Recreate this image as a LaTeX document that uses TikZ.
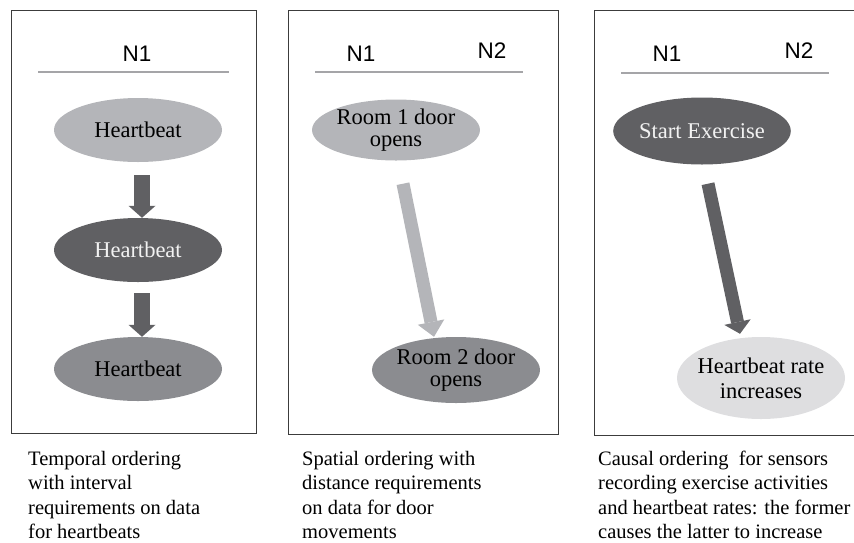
\documentclass[tikz,border=0pt]{standalone}
\usepackage{fontspec}
\setmainfont{Liberation Serif}
\newfontfamily\hdrfont{Liberation Sans}
\usetikzlibrary{shapes.geometric,arrows.meta,positioning,calc}
\definecolor{evlight}{RGB}{180,181,185}
\definecolor{evdark}{RGB}{96,96,99}
\definecolor{evmid}{RGB}{139,140,144}
\definecolor{evpale}{RGB}{222,222,224}
\definecolor{framegray}{RGB}{60,60,60}
\definecolor{rulegray}{RGB}{165,165,168}
\tikzset{
  % Panel frame
  panel/.style={draw=framegray, line width=1.2pt, rectangle, anchor=north west, inner sep=0pt},
  % Node column headings
  hdr/.style={font=\hdrfont\fontsize{22.5}{26}\selectfont, inner sep=0pt},
  hrule/.style={draw=rulegray, line width=1.2pt},
  % Events: filled ellipses, no outline
  ev/.style={ellipse, minimum width=168pt, minimum height=64pt, inner sep=0pt,
             align=center, font=\fontsize{22.5}{22}\selectfont},
  ev-light/.style={ev, fill=evlight},
  ev-dark/.style={ev, fill=evdark, text=white!95!black},
  ev-mid/.style={ev, fill=evmid},
  ev-pale/.style={ev, fill=evpale},
  % Block arrows
  blockarr/.style={line width=16pt, -{Triangle[width=27pt,length=12pt,line width=0pt]}},
  blockarr-thin/.style={blockarr, line width=13pt},
  % Captions under the panels
  caption/.style={anchor=north west, align=left, inner sep=0pt,
                  font=\fontsize{20.5}{24.3}\selectfont}
}

\begin{document}
\begin{tikzpicture}[x=1pt, y=-1pt]
\useasboundingbox (0,0) rectangle (854,542);
\clip (0,0) rectangle (854,542);

% Three panels
\node[panel, minimum width=245pt, minimum height=423pt] (p1) at (11,10) {};
\node[panel, minimum width=270pt, minimum height=424pt] (p2) at (288,10) {};
\node[panel, minimum width=300pt, minimum height=425pt] (p3) at (594,10) {};

% Headings
\node[hdr] (p1n1) at (137,54) {N1};
\draw[hrule] (38,72) -- (229,72);
\node[hdr] (p2n1) at (361,54) {N1};
\node[hdr] (p2n2) at (492,51) {N2};
\draw[hrule] (315,72) -- (523,72);
\node[hdr] (p3n1) at (667,54) {N1};
\node[hdr] (p3n2) at (799,51) {N2};
\draw[hrule] (621,73) -- (829,73);

% Temporal ordering
\node[ev-light] (hb1) at (138,130) {Heartbeat};
\node[ev-dark]  (hb2) at (138,250) {Heartbeat};
\node[ev-mid]   (hb3) at (138,369) {Heartbeat};
\draw[blockarr, evdark] ([xshift=4pt,yshift=-13pt]hb1.south) -- ([xshift=4pt]hb2.north);
\draw[blockarr, evdark] ([xshift=4pt,yshift=-11pt]hb2.south) -- ([xshift=4pt]hb3.north);

% Spatial ordering
\node[ev-light, minimum width=167pt, minimum height=61pt] (r1) at (396,130) {Room 1 door\\opens};
\node[ev-mid, minimum width=167pt, minimum height=66pt] (r2) at (456,370) {Room 2 door\\opens};
\draw[blockarr-thin, evlight, -{Triangle[width=27pt,length=15pt,line width=0pt]}]
  ([xshift=7pt,yshift=-23pt]r1.south) -- ([xshift=-22pt]r2.north);

% Causal ordering
\node[ev-dark, minimum width=169pt, minimum height=67pt] (se) at (702,131) {Start Exercise};
\node[ev-pale, minimum width=168pt, minimum height=82pt, inner xsep=-6pt,
      font=\fontsize{22.5}{25}\selectfont] (hr) at (761,378)
  {Heartbeat rate\\increases};
\draw[blockarr-thin, evdark] ([xshift=6pt,yshift=-19pt]se.south) -- ([xshift=-21pt,yshift=3pt]hr.north);

% Captions
\node[caption] (c1) at (28,451) {Temporal ordering\\with interval\\requirements on data\\for heartbeats};
\node[caption] (c2) at (302,451) {Spatial ordering with\\distance requirements\\on data for door\\movements};
\node[caption] (c3) at (598,451) {Causal ordering\ \ for sensors\\recording exercise activities\\and heartbeat rates: the former\\causes the latter to increase};

\end{tikzpicture}
\end{document}
